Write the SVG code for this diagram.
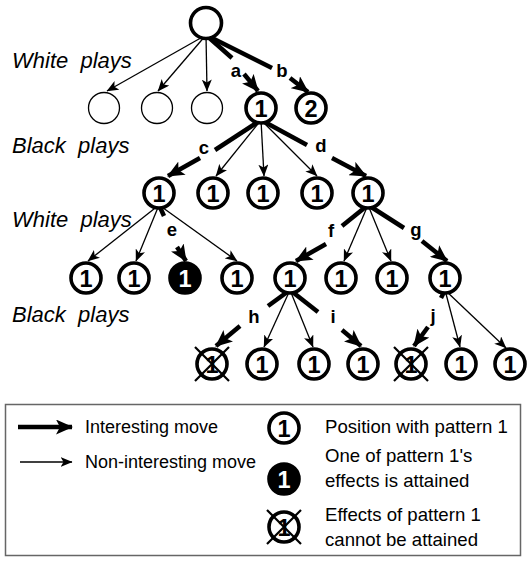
<svg xmlns="http://www.w3.org/2000/svg" width="532" height="561" viewBox="0 0 532 561">
<style>
.n{fill:#fff;stroke:#000;stroke-width:3.6}
.nt{fill:#fff;stroke:#000;stroke-width:1.3}
.nb{fill:#000;stroke:#000;stroke-width:3.6}
.x{stroke:#000;stroke-width:2.2}
.num{font-family:"Liberation Sans",Arial,sans-serif;font-weight:bold;font-size:23.5px;text-anchor:middle}
.lbl{font-family:"Liberation Sans",Arial,sans-serif;font-weight:bold;font-size:18.5px;text-anchor:middle}
.side{font-family:"Liberation Sans",Arial,sans-serif;font-style:italic;font-size:22px;white-space:pre}
.leg{font-family:"Liberation Sans",Arial,sans-serif;font-size:18px}
.leg2{font-family:"Liberation Sans",Arial,sans-serif;font-size:18.6px}
.thick{stroke:#000;stroke-width:4.5;fill:none}
.thin{stroke:#000;stroke-width:1.3;fill:none}
</style>
<defs>
<marker id="ah" markerUnits="userSpaceOnUse" markerWidth="17" markerHeight="15" refX="16" refY="7.5" orient="auto" viewBox="0 0 17 15"><path d="M0,0 L17,7.5 L0,15 L4,7.5 z" fill="#000"/></marker>
<marker id="at" markerUnits="userSpaceOnUse" markerWidth="12" markerHeight="10" refX="11.5" refY="5" orient="auto" viewBox="0 0 12 10"><path d="M0,0 L12,5 L0,10 L3,5 z" fill="#000"/></marker>
</defs>

<g id="side-labels">
<text class="side" x="12" y="68">White  plays</text>
<text class="side" x="12" y="153">Black  plays</text>
<text class="side" x="12" y="227">White  plays</text>
<text class="side" x="12" y="322">Black  plays</text>
</g>

<g id="connectors">
<path class="thin" d="M206,35 L107,91" marker-end="url(#at)"/>
<path class="thin" d="M206,35 L158,91" marker-end="url(#at)"/>
<path class="thin" d="M206,35 L207,91" marker-end="url(#at)"/>
<path class="thick" d="M206,35 L232,58"/>
<path class="thick" d="M244,74 L258,91" marker-end="url(#ah)"/>
<path class="thick" d="M206,35 L272,68"/>
<path class="thick" d="M290,78 L308,92" marker-end="url(#ah)"/>

<path class="thick" d="M261,120 L215,150"/>
<path class="thick" d="M200,158 L168,176" marker-end="url(#ah)"/>
<path class="thick" d="M261,120 L307,145"/>
<path class="thick" d="M332,158 L366,176" marker-end="url(#ah)"/>
<path class="thin" d="M261,120 L216,176" marker-end="url(#at)"/>
<path class="thin" d="M261,120 L264,176" marker-end="url(#at)"/>
<path class="thin" d="M261,120 L317,176" marker-end="url(#at)"/>

<path class="thin" d="M159,205 L88,261" marker-end="url(#at)"/>
<path class="thin" d="M159,205 L136,261" marker-end="url(#at)"/>
<path class="thin" d="M159,205 L237,261" marker-end="url(#at)"/>
<path class="thick" d="M159,205 L164,216"/>
<path class="thick" d="M177,247 L186,261" marker-end="url(#ah)"/>

<path class="thick" d="M368,205 L342,226"/>
<path class="thick" d="M326,244 L296,261" marker-end="url(#ah)"/>
<path class="thick" d="M368,205 L404,228"/>
<path class="thick" d="M422,241 L447,261" marker-end="url(#ah)"/>
<path class="thin" d="M368,205 L344,261" marker-end="url(#at)"/>
<path class="thin" d="M368,205 L391,261" marker-end="url(#at)"/>

<path class="thick" d="M290,290 L268,306"/>
<path class="thick" d="M240,326 L216,346" marker-end="url(#ah)"/>
<path class="thick" d="M290,290 L318,312"/>
<path class="thick" d="M342,330 L361,346" marker-end="url(#ah)"/>
<path class="thin" d="M290,290 L264,347" marker-end="url(#at)"/>
<path class="thin" d="M290,290 L313,347" marker-end="url(#at)"/>

<path class="thick" d="M445,290 L441,298"/>
<path class="thick" d="M428,327 L414,346" marker-end="url(#ah)"/>
<path class="thin" d="M445,290 L460,347" marker-end="url(#at)"/>
<path class="thin" d="M445,290 L506,348" marker-end="url(#at)"/>
</g>

<g id="edge-labels">
<text class="lbl" x="236" y="77">a</text>
<text class="lbl" x="282" y="77">b</text>
<text class="lbl" x="204" y="154">c</text>
<text class="lbl" x="321" y="152">d</text>
<text class="lbl" x="172" y="236">e</text>
<text class="lbl" x="331" y="237">f</text>
<text class="lbl" x="416" y="236">g</text>
<text class="lbl" x="254" y="323">h</text>
<text class="lbl" x="333" y="323">i</text>
<text class="lbl" x="433" y="322">j</text>
</g>

<g id="root"><circle class="n" cx="206" cy="23" r="15.5"/></g>
<g id="n-a1"><circle class="nt" cx="104" cy="108" r="15.5"/></g>
<g id="n-a2"><circle class="nt" cx="157" cy="108" r="15.5"/></g>
<g id="n-a3"><circle class="nt" cx="207" cy="108" r="15.5"/></g>
<g id="n-a4"><circle class="n" cx="261" cy="108" r="15"/><text class="num" x="261" y="116.5">1</text></g>
<g id="n-a5"><circle class="n" cx="311" cy="108" r="15"/><text class="num" x="311" y="116.5">2</text></g>

<g id="n-b1"><circle class="n" cx="159" cy="193" r="15"/><text class="num" x="159" y="201.5">1</text></g>
<g id="n-b2"><circle class="n" cx="213" cy="193" r="15"/><text class="num" x="213" y="201.5">1</text></g>
<g id="n-b3"><circle class="n" cx="263" cy="193" r="15"/><text class="num" x="263" y="201.5">1</text></g>
<g id="n-b4"><circle class="n" cx="317" cy="193" r="15"/><text class="num" x="317" y="201.5">1</text></g>
<g id="n-b5"><circle class="n" cx="368" cy="193" r="15"/><text class="num" x="368" y="201.5">1</text></g>

<g id="n-c1"><circle class="n" cx="86" cy="278" r="15"/><text class="num" x="86" y="286.5">1</text></g>
<g id="n-c2"><circle class="n" cx="134" cy="278" r="15"/><text class="num" x="134" y="286.5">1</text></g>
<g id="n-c3"><circle class="nb" cx="185" cy="278" r="15"/><text class="num" x="185" y="286.5" fill="#fff">1</text></g>
<g id="n-c4"><circle class="n" cx="237" cy="278" r="15"/><text class="num" x="237" y="286.5">1</text></g>
<g id="n-c5"><circle class="n" cx="290" cy="278" r="15"/><text class="num" x="290" y="286.5">1</text></g>
<g id="n-c6"><circle class="n" cx="341" cy="278" r="15"/><text class="num" x="341" y="286.5">1</text></g>
<g id="n-c7"><circle class="n" cx="392" cy="278" r="15"/><text class="num" x="392" y="286.5">1</text></g>
<g id="n-c8"><circle class="n" cx="445" cy="278" r="15"/><text class="num" x="445" y="286.5">1</text></g>

<g id="n-d1"><circle class="n" cx="212" cy="364" r="15"/><text class="num" x="212" y="372.5">1</text><path class="x" d="M195,347 L229,381 M229,347 L195,381"/></g>
<g id="n-d2"><circle class="n" cx="262" cy="364" r="15"/><text class="num" x="262" y="372.5">1</text></g>
<g id="n-d3"><circle class="n" cx="314" cy="364" r="15"/><text class="num" x="314" y="372.5">1</text></g>
<g id="n-d4"><circle class="n" cx="363" cy="364" r="15"/><text class="num" x="363" y="372.5">1</text></g>
<g id="n-d5"><circle class="n" cx="411" cy="364" r="15"/><text class="num" x="411" y="372.5">1</text><path class="x" d="M394,347 L428,381 M428,347 L394,381"/></g>
<g id="n-d6"><circle class="n" cx="461" cy="364" r="15"/><text class="num" x="461" y="372.5">1</text></g>
<g id="n-d7"><circle class="n" cx="510" cy="364" r="15"/><text class="num" x="510" y="372.5">1</text></g>

<g id="legend">
<rect x="5.5" y="404.5" width="515" height="151" fill="none" stroke="#666" stroke-width="1.5"/>
<path class="thick" d="M18,427 L72,427" marker-end="url(#ah)"/>
<path class="thin" d="M20,462 L72,462" marker-end="url(#at)"/>
<text class="leg" x="85" y="433">Interesting move</text>
<text class="leg" x="85" y="468">Non-interesting move</text>
<g id="legend-node-pattern"><circle class="n" cx="284" cy="428" r="15"/><text class="num" x="284" y="436.5">1</text></g>
<g id="legend-node-attained"><circle class="nb" cx="284" cy="479" r="15"/><text class="num" x="284" y="487.5" fill="#fff">1</text></g>
<g id="legend-node-crossed"><circle class="n" cx="284" cy="527" r="15"/><text class="num" x="284" y="535.5">1</text><path class="x" d="M267,510 L301,544 M301,510 L267,544"/></g>
<text class="leg2" x="325" y="433">Position with pattern 1</text>
<text class="leg2" x="325" y="462">One of pattern 1's</text>
<text class="leg2" x="325" y="487">effects is attained</text>
<text class="leg2" x="325" y="521">Effects of pattern 1</text>
<text class="leg2" x="325" y="546">cannot be attained</text>
</g>
</svg>
